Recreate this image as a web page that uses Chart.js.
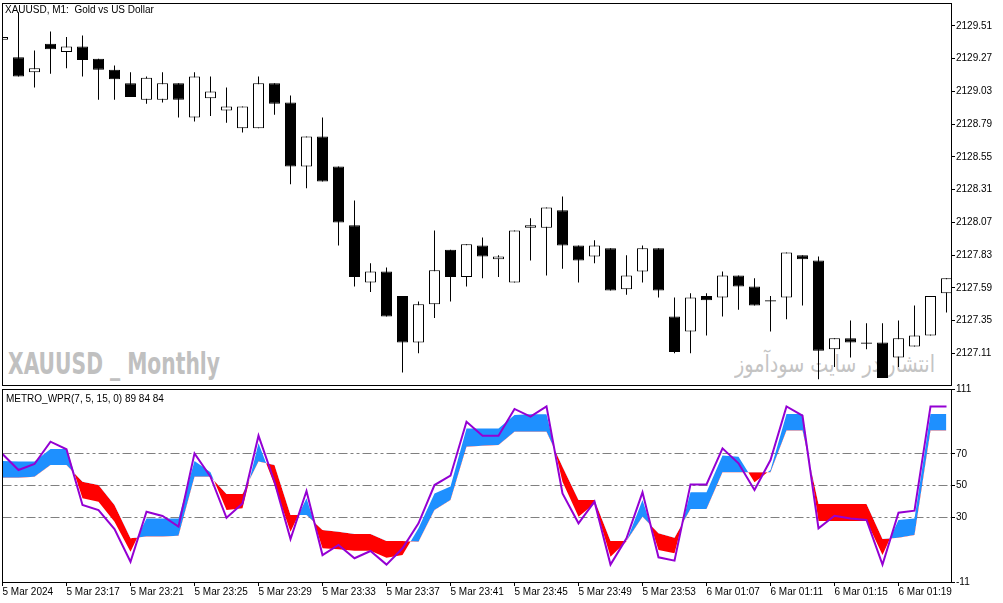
<!DOCTYPE html>
<html>
<head>
<meta charset="utf-8">
<title>XAUUSD M1 with METRO_WPR</title>
<script src="https://cdn.jsdelivr.net/npm/chart.js@4.4.1/dist/chart.umd.min.js"></script>
<style>
  html, body { margin: 0; padding: 0; background: #fff; }
  #page { position: relative; width: 1003px; height: 603px; overflow: hidden; background: #fff; }
  .box { position: absolute; left: 0; width: 1003px; }
  #priceBox { top: 0; height: 388px; }
  #wprBox { top: 383px; height: 220px; }
  .lbl { position: absolute; white-space: pre; font-family: "Liberation Sans", Arial, sans-serif; font-size: 10px; line-height: 12px; color: #000; }
  .mark { position: absolute; white-space: nowrap; color: #c0c0c0; transform-origin: 0 0; }
  #markSymbol { left: 8px; top: 349px; font: bold 30px/30px "DejaVu Sans Condensed", "DejaVu Sans", sans-serif; }
  #markSite { left: 735px; top: 351px; font: 24px/26px "DejaVu Sans", sans-serif; direction: rtl; color: #c4c4c4; }
</style>
</head>
<body>
<div id="page">
  <div class="mark" id="markSymbol">XAUUSD _ Monthly</div>
  <div class="mark" id="markSite">انتشار در سایت سودآموز</div>
  <div class="box" id="priceBox"><canvas id="priceChart"></canvas></div>
  <div class="box" id="wprBox"><canvas id="wprChart"></canvas></div>
  <div class="lbl" style="left:5px;top:4px">XAUUSD, M1:  Gold vs US Dollar</div>
  <div class="lbl" style="left:6px;top:393px">METRO_WPR(7, 5, 15, 0) 89 84 84</div>
</div>
<script>
// bar times (M1), 5 Mar 23:13 ... 6 Mar 01:22
const barTimes = [
  "23:13", "23:14", "23:15", "23:16", "23:17", "23:18", "23:19", "23:20", "23:21", "23:22",
  "23:23", "23:24", "23:25", "23:26", "23:27", "23:28", "23:29", "23:30", "23:31", "23:32",
  "23:33", "23:34", "23:35", "23:36", "23:37", "23:38", "23:39", "23:40", "23:41", "23:42",
  "23:43", "23:44", "23:45", "23:46", "23:47", "23:48", "23:49", "23:50", "23:51", "23:52",
  "23:53", "23:54", "23:55", "23:56", "01:07", "01:08", "01:09", "01:10", "01:11", "01:12",
  "01:13", "01:14", "01:15", "01:16", "01:17", "01:18", "01:19", "01:20", "01:21", "01:22"
];

const opens = [
  2129.41, 2129.28, 2129.17, 2129.38, 2129.32, 2129.36, 2129.27, 2129.19, 2129.09, 2128.97,
  2128.97, 2129.09, 2128.84, 2128.98, 2128.89, 2128.76, 2128.76, 2129.09, 2128.95, 2128.48,
  2128.70, 2128.48, 2128.05, 2127.63, 2127.71, 2127.53, 2127.19, 2127.47, 2127.87, 2127.67,
  2127.90, 2127.80, 2127.63, 2128.03, 2128.03, 2128.16, 2127.90, 2127.82, 2127.88, 2127.58,
  2127.71, 2127.88, 2127.38, 2127.27, 2127.53, 2127.52, 2127.68, 2127.60, 2127.49, 2127.52,
  2127.83, 2127.79, 2127.14, 2127.22, 2127.19, 2127.19, 2127.08, 2127.16, 2127.24, 2127.55
];
const highs = [
  2129.43, 2129.61, 2129.33, 2129.47, 2129.43, 2129.44, 2129.27, 2129.22, 2129.17, 2129.14,
  2129.17, 2129.09, 2129.17, 2129.14, 2129.06, 2128.92, 2129.14, 2129.09, 2129.00, 2128.70,
  2128.84, 2128.48, 2128.23, 2127.77, 2127.74, 2127.53, 2127.49, 2128.01, 2127.87, 2127.91,
  2127.96, 2127.83, 2128.01, 2128.10, 2128.18, 2128.26, 2127.90, 2127.94, 2127.88, 2127.83,
  2127.90, 2127.88, 2127.52, 2127.55, 2127.55, 2127.71, 2127.68, 2127.66, 2127.53, 2127.85,
  2127.83, 2127.82, 2127.22, 2127.35, 2127.33, 2127.33, 2127.35, 2127.46, 2127.53, 2127.66
];
const lows = [
  2129.41, 2129.14, 2129.06, 2129.16, 2129.20, 2129.14, 2128.97, 2128.97, 2128.99, 2128.94,
  2128.95, 2128.84, 2128.81, 2128.85, 2128.80, 2128.73, 2128.76, 2128.86, 2128.35, 2128.32,
  2128.37, 2127.90, 2127.60, 2127.56, 2127.38, 2126.97, 2127.11, 2127.37, 2127.49, 2127.60,
  2127.66, 2127.67, 2127.63, 2127.79, 2127.68, 2127.73, 2127.63, 2127.77, 2127.57, 2127.54,
  2127.63, 2127.52, 2127.11, 2127.11, 2127.24, 2127.38, 2127.43, 2127.46, 2127.27, 2127.36,
  2127.46, 2126.92, 2127.01, 2127.08, 2127.14, 2126.93, 2127.01, 2127.16, 2127.24, 2127.41
];
const closes = [
  2129.43, 2129.14, 2129.20, 2129.34, 2129.36, 2129.26, 2129.19, 2129.12, 2128.99, 2129.13,
  2129.09, 2128.97, 2129.14, 2129.03, 2128.92, 2128.92, 2129.09, 2128.94, 2128.48, 2128.70,
  2128.37, 2128.07, 2127.67, 2127.71, 2127.38, 2127.19, 2127.47, 2127.72, 2127.67, 2127.91,
  2127.82, 2127.82, 2128.01, 2128.05, 2128.18, 2127.90, 2127.79, 2127.90, 2127.57, 2127.68,
  2127.88, 2127.57, 2127.12, 2127.52, 2127.50, 2127.68, 2127.60, 2127.46, 2127.50, 2127.85,
  2127.80, 2127.13, 2127.22, 2127.19, 2127.18, 2126.93, 2127.22, 2127.24, 2127.53, 2127.66
];
const priceTicks = [2127.11, 2127.35, 2127.59, 2127.83, 2128.07, 2128.31, 2128.55, 2128.79, 2129.03, 2129.27, 2129.51];

// METRO_WPR buffers
const wprLine = [
  69.9, 59.8, 63.6, 77.7, 72.9, 37.7, 34.5, 22.5, 1.8, 33.4,
  30.7, 24.0, 70.3, 55.6, 29.6, 38.7, 81.5, 52.4, 16.2, 46.5,
  6.0, 12.4, 4.0, 8.6, 0.0, 10.3, 26.1, 50.3, 56.2, 90.3,
  81.5, 81.5, 98.4, 93.5, 100, 45.0, 26.1, 39.8, 0.0, 16.6,
  45.7, 4.6, 2.5, 50.7, 50.7, 73.5, 64.0, 47.2, 66.1, 100,
  94.1, 22.9, 30.9, 29.2, 28.2, 0.0, 32.8, 34.1, 100, 100
];
const fastStep = [
  65.5, 65.1, 65.1, 73.1, 73.1, 41.9, 39.8, 27.1, 8.2, 29.2,
  29.2, 29.2, 65.5, 58.3, 34.5, 35.6, 76.7, 50.3, 20.8, 41.9,
  10.3, 9.7, 8.8, 8.8, 4.4, 6.1, 22.9, 45.0, 49.3, 86.1,
  86.1, 86.1, 94.6, 95.0, 95.0, 52.4, 30.3, 38.7, 5.0, 14.7,
  40.8, 9.2, 7.1, 45.7, 45.7, 68.9, 68.2, 52.0, 59.8, 95.2,
  95.2, 27.6, 27.6, 27.6, 27.6, 6.1, 28.2, 29.2, 95.2, 95.2
];
const slowStep = [
  54.9, 54.9, 55.6, 63.0, 63.0, 52.4, 50.3, 37.7, 16.6, 17.7,
  17.7, 18.3, 55.6, 55.6, 44.6, 44.6, 65.1, 63.0, 31.4, 31.4,
  21.9, 20.8, 19.3, 19.3, 14.9, 14.9, 14.5, 34.5, 40.8, 74.5,
  75.2, 75.6, 84.0, 84.0, 84.0, 61.9, 40.8, 40.8, 14.9, 14.9,
  30.3, 19.8, 17.0, 35.1, 35.1, 58.3, 58.3, 58.3, 58.3, 84.7,
  84.7, 38.3, 38.3, 38.3, 38.3, 16.2, 17.0, 18.7, 84.7, 84.7
];
const wprTicks = [111, 70, 50, 30, -11];
const wprLevels = [70, 50, 30];

const timeTickBars = [0, 4, 8, 12, 16, 20, 24, 28, 32, 36, 40, 44, 48, 52, 56];
const timeTickLabels = [
  "5 Mar 2024", "5 Mar 23:17", "5 Mar 23:21", "5 Mar 23:25", "5 Mar 23:29",
  "5 Mar 23:33", "5 Mar 23:37", "5 Mar 23:41", "5 Mar 23:45", "5 Mar 23:49",
  "5 Mar 23:53", "6 Mar 01:07", "6 Mar 01:11", "6 Mar 01:15", "6 Mar 01:19"
];

// layout: 16px per bar, plot from x=2.5 to x=951
const X_MAX = (951 - 2.5) / 16;
const AXIS_FONT = { family: "Liberation Sans", size: 10 };

const framePlugin = {
  id: "frame",
  afterDraw(chart) {
    const { ctx, chartArea: a } = chart;
    const l = Math.floor(a.left) + 0.5, t = Math.floor(a.top) + 0.5;
    const r = Math.floor(a.right) + 0.5, b = Math.floor(a.bottom) + 0.5;
    ctx.save();
    ctx.strokeStyle = "#000";
    ctx.lineWidth = 1;
    ctx.strokeRect(l, t, r - l, b - t);
    ctx.restore();
  }
};

const yAxisFit = s => { s.width = 52; s.paddingTop = 0; s.paddingBottom = 0; };

const bodyData = opens.map((o, i) => ({ x: i, y: [o, closes[i]] }));
const wickData = lows.map((l, i) => ({ x: i, y: [l, highs[i]] }));

new Chart(document.getElementById("priceChart"), {
  type: "bar",
  data: {
    datasets: [
      {
        label: "body",
        data: bodyData,
        grouped: false,
        barThickness: 11,
        borderWidth: 1,
        borderColor: "#000",
        borderSkipped: false,
        inflateAmount: 0,
        backgroundColor: c => closes[c.dataIndex] >= opens[c.dataIndex] ? "#fff" : "#000",
        order: 0,
      },
      {
        label: "wick",
        data: wickData,
        grouped: false,
        barThickness: 1,
        borderWidth: 0,
        inflateAmount: 0,
        backgroundColor: "#000",
        order: 1,
      },
    ],
  },
  options: {
    responsive: true,
    maintainAspectRatio: false,
    animation: false,
    layout: { padding: { left: 2.5, top: 3, right: 0, bottom: 3 } },
    plugins: { legend: { display: false }, tooltip: { enabled: false } },
    scales: {
      x: { type: "linear", display: false, offset: false, min: 0, max: X_MAX },
      y: {
        position: "right",
        min: 2126.878,
        max: 2129.6786,
        afterFit: yAxisFit,
        afterBuildTicks: s => { s.ticks = priceTicks.map(v => ({ value: v })); },
        border: { display: false },
        grid: { drawOnChartArea: false, drawTicks: true, tickLength: 4, tickColor: "#000" },
        ticks: { padding: 1, color: "#000", font: AXIS_FONT, callback: v => v.toFixed(2) },
      },
    },
  },
  plugins: [framePlugin],
});

new Chart(document.getElementById("wprChart"), {
  type: "line",
  data: {
    datasets: [
      {
        label: "WPR",
        data: wprLine.map((v, i) => ({ x: i, y: v })),
        borderColor: "#9400D3",
        borderWidth: 2,
        pointRadius: 0,
        tension: 0,
        fill: false,
      },
      {
        label: "fast",
        data: fastStep.map((v, i) => ({ x: i, y: v })),
        borderWidth: 0,
        borderColor: "rgba(0,0,0,0)",
        pointRadius: 0,
        tension: 0,
        fill: { target: "+1", above: "#1E90FF", below: "#FF0000" },
      },
      {
        label: "slow",
        data: slowStep.map((v, i) => ({ x: i, y: v })),
        borderWidth: 0,
        borderColor: "rgba(0,0,0,0)",
        pointRadius: 0,
        tension: 0,
        fill: false,
      },
    ],
  },
  options: {
    responsive: true,
    maintainAspectRatio: false,
    animation: false,
    layout: { padding: { left: 2.5, top: 6, right: 0, bottom: 0 } },
    plugins: { legend: { display: false }, tooltip: { enabled: false } },
    scales: {
      x: {
        type: "linear",
        offset: false,
        min: 0,
        max: X_MAX,
        afterFit: s => { s.height = 21; s.paddingLeft = 0; s.paddingRight = 0; },
        afterBuildTicks: s => { s.ticks = timeTickBars.map(v => ({ value: v })); },
        border: { display: false },
        grid: { drawOnChartArea: false, drawTicks: true, tickLength: 4, tickColor: "#000" },
        ticks: {
          align: "start",
          padding: 0,
          maxRotation: 0,
          autoSkip: false,
          color: "#000",
          font: AXIS_FONT,
          callback: (v, i) => timeTickLabels[i],
        },
      },
      y: {
        position: "right",
        min: -11,
        max: 111,
        z: 1,
        afterFit: yAxisFit,
        afterBuildTicks: s => { s.ticks = wprTicks.map(v => ({ value: v })); },
        border: { display: false, dash: [9, 3, 3, 3, 3, 3] },
        grid: {
          color: c => (c.tick && wprLevels.includes(c.tick.value)) ? "#808080" : "rgba(0,0,0,0)",
          drawTicks: true,
          tickLength: 4,
          tickColor: "#000",
        },
        ticks: { padding: 1, color: "#000", font: AXIS_FONT, callback: v => String(v) },
      },
    },
  },
  plugins: [framePlugin],
});

// stretch the two watermarks to the width they have on the terminal
function fitWidth(id, w) {
  const el = document.getElementById(id);
  const r = el.getBoundingClientRect().width;
  if (r > 0) el.style.transform = "scaleX(" + (w / r) + ")";
}
fitWidth("markSymbol", 212);
fitWidth("markSite", 200);
</script>
</body>
</html>
